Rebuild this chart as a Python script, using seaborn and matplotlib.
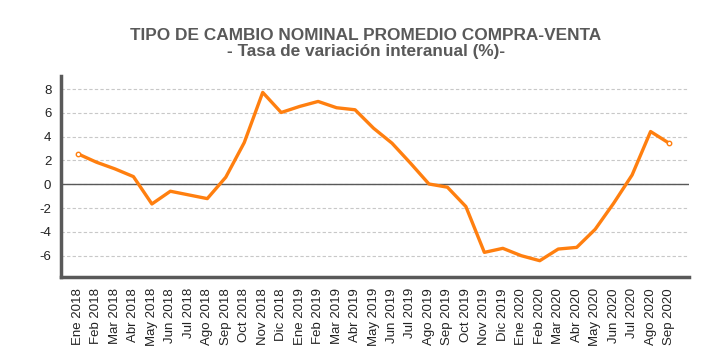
import pandas as pd
import matplotlib
matplotlib.use("Agg")
import matplotlib.pyplot as plt
import seaborn as sns

# monthly labels and values (year-on-year % change)
months = ["Ene", "Feb", "Mar", "Abr", "May", "Jun", "Jul", "Ago", "Sep", "Oct", "Nov", "Dic"]
labels = [f"{m} {y}" for y in (2018, 2019, 2020) for m in months][:33]
values = [2.55, 1.85, 1.29, 0.64, -1.66, -0.59, -0.90, -1.21, 0.59, 3.50, 7.72, 6.03,
          6.54, 6.96, 6.43, 6.26, 4.71, 3.45, 1.77, 0.02, -0.25, -1.88, -5.73, -5.39,
          -6.01, -6.43, -5.45, -5.31, -3.79, -1.60, 0.78, 4.43, 3.45]
yticks = [-6, -4, -2, 0, 2, 4, 6, 8]

df = pd.DataFrame({"mes": labels, "tasa": values})

sns.set_theme(style="white")
plt.rcParams['font.family'] = ['Liberation Sans', 'DejaVu Sans']

orange = "#FF7F0F"
dark = "#595959"

fig = plt.figure(figsize=(7.12, 3.61), dpi=100)
ax = fig.add_axes([0.0857, 0.2327, 0.882, 0.5568])

ax.yaxis.grid(True, linestyle=(0, (3, 2)), color="#c8c8c8", linewidth=0.8)
ax.set_axisbelow(True)
ax.axhline(0, color=dark, linewidth=1.0, zorder=1)

sns.lineplot(data=df, x="mes", y="tasa", sort=False, color=orange, linewidth=2.4, ax=ax, zorder=3)
ends = df.iloc[[0, -1]]
ax.plot(ends["mes"], ends["tasa"], linestyle="none", marker="o", markersize=3.2,
        markerfacecolor="white", markeredgecolor=orange, markeredgewidth=1.0, zorder=4)

ax.set_xlim(-0.92, len(labels) - 1 + 1.08)
ax.set_ylim(-7.8, 9.1)
ax.set_yticks(yticks)
ax.set_yticklabels([str(t) for t in yticks])
ax.set_xticks(range(len(labels)))
ax.set_xticklabels(labels, rotation=90)
ax.tick_params(axis="both", length=0, labelsize=9.5, colors="#222222")
ax.tick_params(axis="y", pad=7)
ax.tick_params(axis="x", pad=8)
ax.set_xlabel("")
ax.set_ylabel("")

for side in ["top", "right"]:
    ax.spines[side].set_visible(False)
for side in ["left", "bottom"]:
    ax.spines[side].set_color(dark)
    ax.spines[side].set_linewidth(2.5)

fig.text(0.514, 0.903, "TIPO DE CAMBIO NOMINAL PROMEDIO COMPRA-VENTA", ha="center", va="center",
         fontsize=12.4, fontweight="bold", color=dark)
fig.text(0.514, 0.856, "- Tasa de variación interanual (%)-", ha="center", va="center",
         fontsize=12.4, fontweight="bold", color=dark)

fig.savefig("out.png", dpi=100)
